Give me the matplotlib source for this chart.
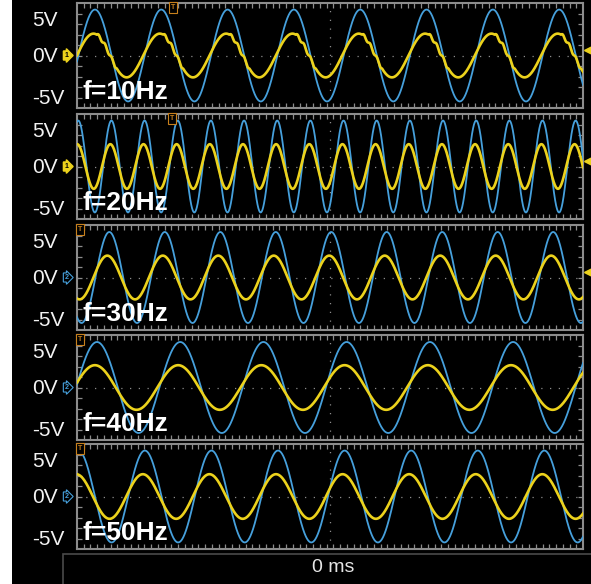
import numpy as np
import matplotlib.pyplot as plt
from matplotlib.patches import Rectangle

plt.rcParams['font.family'] = ['Liberation Sans', 'DejaVu Sans']

# scope captures, one per drive frequency
freq_hz = [10, 20, 30, 40, 50]
labels = ['f=10Hz', 'f=20Hz', 'f=30Hz', 'f=40Hz', 'f=50Hz']
screen_ms = [763, 763, 304, 152, 152]          # horizontal span of each capture
ch2_amp_v = [5.25, 5.25, 5.2, 5.2, 5.25]       # blue trace (drive)
ch1_amp_v = [2.5, 2.55, 2.5, 2.55, 2.55]       # yellow trace (response)
ch2_phase_deg = [-74, -57, 82, 18, 11]
ch1_lead_deg = [8, 12, 13, 9, 11]
ch1_ripple_v = [0.18, 0, 0, 0, 0]
ref_channel = [1, 1, 2, 2, 2]
trig_pos = [0.186, 0.184, 0.002, 0.002, 0.002]
right_marker = [True, True, True, False, False]

BLUE = '#46a0dc'
YELLOW = '#ecd21c'
GRID = '#8c8c8c'
ORANGE = '#c8801c'

W, H = 591, 584
fig = plt.figure(figsize=(W / 100, H / 100), dpi=100, facecolor='black')
fig.patches.append(Rectangle((0, 0), 12 / W, 1, transform=fig.transFigure,
                             facecolor='white', edgecolor='none', zorder=-5))

ax_left, ax_width, ax_height = 77, 506, 105
tops = [3, 114, 225, 335, 444]
vmax = 6.0

for i in range(5):
    top = tops[i]
    ax = fig.add_axes([ax_left / W, 1 - (top + ax_height) / H, ax_width / W, ax_height / H])
    ax.set_facecolor('black')
    half = screen_ms[i] / 2
    t = np.linspace(-half, half, 6000)
    f = freq_hz[i] / 1000.0
    th2 = 2 * np.pi * f * t + np.radians(ch2_phase_deg[i])
    th1 = th2 + np.radians(ch1_lead_deg[i])
    blue = ch2_amp_v[i] * np.sin(th2)
    yellow = ch1_amp_v[i] * np.sin(th1)
    if ch1_ripple_v[i]:
        # ringing on the falling edge of the response
        ph = np.mod(th1, 2 * np.pi)
        gate = (ph > 0.6 * np.pi) & (ph < 1.2 * np.pi)
        yellow = yellow + gate * ch1_ripple_v[i] * np.sin(10 * th1)

    ax.plot(t, blue, color=BLUE, lw=1.3, zorder=3)
    ax.plot(t, yellow, color=YELLOW, lw=1.9, zorder=4)

    ax.axhline(0, color=GRID, lw=0.9, ls=(0, (1, 6)), zorder=1)
    ax.axvline(0, color=GRID, lw=0.9, ls=(0, (1, 6)), zorder=1)
    ax.set_xlim(-half, half)
    ax.set_ylim(-vmax, vmax)
    ax.set_xticks(np.linspace(-half, half, 76)[1:-1])
    ax.set_yticks(np.linspace(-vmax, vmax, 11)[1:-1])
    ax.tick_params(direction='in', top=True, right=True, length=3.5, width=0.9,
                   color=GRID, labelbottom=False, labelleft=False)
    for s in ax.spines.values():
        s.set_color(GRID)
        s.set_linewidth(1.5)

    # volt labels
    for frac, txt in [(0.829, '5V'), (0.486, '0V'), (0.086, '-5V')]:
        ax.text(-0.0889, frac, txt, transform=ax.transAxes, ha='left', va='center',
                fontsize=15, color='#f2f2f2', clip_on=False)
    ax.text(0.01, 0.085, labels[i], transform=ax.transAxes, ha='left', va='baseline',
            fontsize=19, fontweight='bold', color='white', zorder=6)

    # channel reference marker
    if ref_channel[i] == 1:
        ax.text(-0.021, 0.5, '1', transform=ax.transAxes, ha='center', va='center',
                fontsize=5, fontweight='bold', color='black', clip_on=False,
                bbox=dict(boxstyle='rarrow,pad=0.15', fc=YELLOW, ec=YELLOW))
    else:
        ax.text(-0.021, 0.5, '2', transform=ax.transAxes, ha='center', va='center',
                fontsize=5, fontweight='bold', color=BLUE, clip_on=False,
                bbox=dict(boxstyle='rarrow,pad=0.15', fc='black', ec=BLUE, lw=0.8))
    # trigger marker
    ax.text(trig_pos[i] + 0.004, 0.955, 'T', transform=ax.transAxes, ha='center',
            va='center', fontsize=5, fontweight='bold', color=ORANGE, clip_on=False,
            zorder=7, bbox=dict(boxstyle='square,pad=0.25', fc='black', ec=ORANGE, lw=0.8))
    if right_marker[i]:
        ax.plot([1.01], [0.555], marker='<', ms=6, color=YELLOW,
                transform=ax.transAxes, clip_on=False)

# time readout box
fig.patches.append(Rectangle((63 / W, -0.01), 1, (584 - 554) / H + 0.01,
                             transform=fig.transFigure, facecolor='black',
                             edgecolor='#4a4a4a', lw=1.2))
fig.text(333.5 / W, 1 - 568 / H, '0 ms', ha='center', va='center',
         fontsize=14, color='#e6e6e6')

fig.savefig('out.png', dpi=100, facecolor='black')
